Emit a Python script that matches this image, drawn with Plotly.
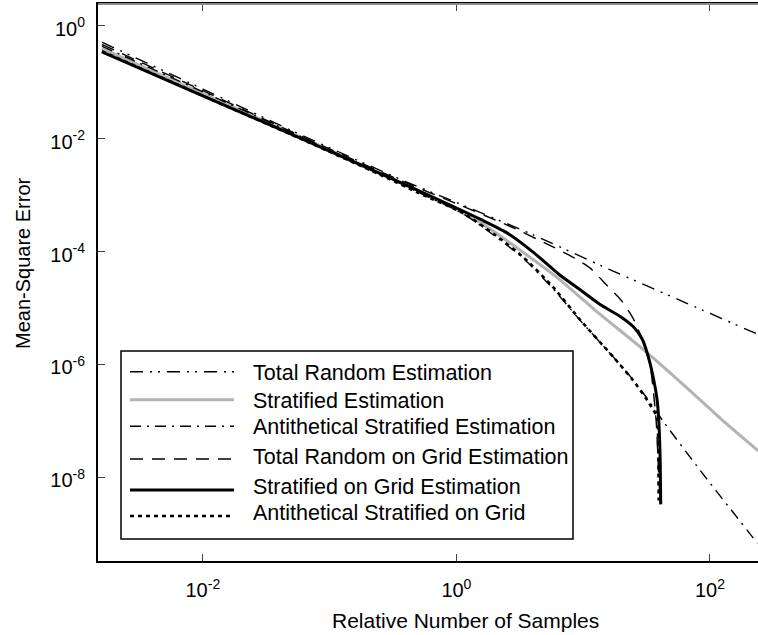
import plotly.graph_objects as go

# ---------------- data (log-log axes) ----------------
series_names = [
    "Total Random Estimation",
    "Stratified Estimation",
    "Antithetical Stratified Estimation",
    "Total Random on Grid Estimation",
    "Stratified on Grid Estimation",
    "Antithetical Stratified on Grid",
]

tr_x = [1.6e-3, 1.0e-2, 6.31e-2, 0.398, 1.0, 3.98, 15.85, 63.1, 240]
tr_y = [0.513, 7.59e-2, 1.096e-2, 1.74e-3, 7.41e-4, 2.0e-4, 4.90e-5, 1.26e-5, 3.39e-6]

st_x = [1.6e-3, 1.0e-2, 6.31e-2, 0.251, 0.631, 1.585, 3.16, 6.31, 12.6, 29.6, 63.1, 120, 240]
st_y = [0.398, 6.31e-2, 1.0e-2, 2.455e-3, 9.33e-4, 3.16e-4, 1.07e-4, 3.39e-5, 8.91e-6,
        1.862e-6, 4.17e-7, 1.122e-7, 2.95e-8]

as_x = [1.6e-3, 1.0e-2, 6.31e-2, 0.251, 0.501, 1.13, 2.0, 3.37, 5.79, 9.46, 17.3, 24.7,
        31.9, 42.8, 83.9, 237]
as_y = [0.437, 6.76e-2, 1.023e-2, 2.40e-3, 1.122e-3, 4.68e-4, 1.905e-4, 7.59e-5, 2.19e-5,
        6.03e-6, 1.35e-6, 5.37e-7, 2.51e-7, 9.77e-8, 1.318e-8, 6.76e-10]

trg_x = [1.6e-3, 1.0e-2, 6.31e-2, 0.398, 1.0, 2.51, 5.83, 8.61, 11.3, 15.4, 19.9, 24.7,
         29.6, 33.7, 37.6, 39.6, 40.3]
trg_y = [0.468, 7.08e-2, 1.047e-2, 1.66e-3, 7.08e-4, 2.95e-4, 1.20e-4, 7.59e-5, 5.13e-5,
         2.51e-5, 1.38e-5, 6.61e-6, 2.57e-6, 9.77e-7, 1.02e-7, 8.91e-9, 4.47e-9]

sg_x = [1.6e-3, 1.0e-2, 6.31e-2, 0.251, 0.631, 1.585, 2.51, 3.98, 6.58, 9.46, 13.6, 19.6,
        24.8, 29.2, 32.5, 35.6, 38.3, 39.5, 40.5, 40.9]
sg_y = [0.347, 5.75e-2, 9.55e-3, 2.40e-3, 9.55e-4, 3.63e-4, 2.14e-4, 1.0e-4, 3.8e-5,
        2.1e-5, 1.15e-5, 7.08e-6, 4.68e-6, 2.82e-6, 1.41e-6, 6.03e-7, 2.34e-7, 1.0e-7,
        2.0e-8, 3.31e-9]

asg_x = [1.6e-3, 1.0e-2, 6.31e-2, 0.251, 0.501, 1.13, 2.0, 3.37, 5.79, 9.46, 17.3, 24.7,
         31.9, 38.3, 39.0, 39.4]
asg_y = [0.355, 5.75e-2, 9.33e-3, 2.29e-3, 1.096e-3, 4.79e-4, 2.0e-4, 7.94e-5, 2.34e-5,
         6.17e-6, 1.35e-6, 5.25e-7, 2.34e-7, 1.148e-7, 4.57e-8, 3.89e-9]

x_tick_vals = [1e-2, 1e0, 1e2]
x_tick_text = ["10<sup>-2</sup>", "10<sup>0</sup>", "10<sup>2</sup>"]
y_tick_vals = [1e0, 1e-2, 1e-4, 1e-6, 1e-8]
y_tick_text = ["10<sup>0</sup>", "10<sup>-2</sup>", "10<sup>-4</sup>", "10<sup>-6</sup>", "10<sup>-8</sup>"]

x_title = "Relative Number of Samples"
y_title = "Mean-Square Error"

# ---------------- styles ----------------
styles = [
    dict(color="black", width=1.4, dash="13px,7px,2px,6px,2px,7px"),
    dict(color="#b3b3b3", width=3, dash="solid"),
    dict(color="black", width=1.4, dash="11px,6px,2px,6px"),
    dict(color="black", width=1.4, dash="13px,9px"),
    dict(color="black", width=3, dash="solid"),
    dict(color="black", width=2.6, dash="4px,4px"),
]
data = [(tr_x, tr_y), (st_x, st_y), (as_x, as_y), (trg_x, trg_y), (sg_x, sg_y), (asg_x, asg_y)]

W, H = 758, 635
L, R, T, B = 98, 0, 4, 74
X_RANGE = [-2.827, 2.379]
Y_RANGE = [-9.484, 0.387]

fig = go.Figure()
for name, (xs, ys), st in zip(series_names, data, styles):
    fig.add_trace(go.Scatter(x=xs, y=ys, mode="lines", name=name, showlegend=False,
                             line=dict(color=st["color"], width=st["width"], dash=st["dash"],
                                       shape="spline", smoothing=0.6)))

FONT = "Liberation Sans, Arial, Helvetica, sans-serif"

fig.update_layout(
    width=W, height=H,
    margin=dict(l=L, r=R, t=T, b=B),
    plot_bgcolor="white", paper_bgcolor="white",
    showlegend=False,
    font=dict(family=FONT, color="black", size=20),
    xaxis=dict(type="log", range=X_RANGE, tickvals=x_tick_vals, ticktext=x_tick_text,
               ticks="inside", ticklen=7, tickwidth=1, tickcolor="#444",
               showline=True, linecolor="black", linewidth=2, mirror="ticks",
               showgrid=False, zeroline=False, tickfont=dict(size=20),
               ticklabelstandoff=10),
    yaxis=dict(type="log", range=Y_RANGE, tickvals=y_tick_vals, ticktext=y_tick_text,
               ticks="inside", ticklen=7, tickwidth=1, tickcolor="#444",
               showline=True, linecolor="black", linewidth=2, mirror=False,
               showgrid=False, zeroline=False, tickfont=dict(size=20),
               ticklabelstandoff=7, ticklabelshift=3),
    # right-hand tick marks only (no visible right frame line in the original)
    yaxis2=dict(type="log", range=Y_RANGE, overlaying="y", side="right", tickvals=y_tick_vals,
                showticklabels=False, ticks="inside", ticklen=5, tickwidth=1, tickcolor="#444",
                showline=False, showgrid=False, zeroline=False),
)

pw, ph = W - L - R, H - T - B


def px(xp):
    return (xp - L) / pw


def py(yp):
    return (H - B - yp) / ph


# lighter top frame line, as in the original
fig.add_shape(type="line", xref="paper", yref="paper", x0=0, x1=1, y0=1, y1=1,
              line=dict(color="#8c8c8c", width=2), layer="above")

# axis titles (placed where the original has them)
fig.add_annotation(xref="paper", yref="paper", x=px(465), y=py(620), text=x_title, showarrow=False,
                   xanchor="center", yanchor="middle", font=dict(size=21, family=FONT, color="black"))
fig.add_annotation(xref="paper", yref="paper", x=px(22.5), y=py(263.5), text=y_title, showarrow=False,
                   textangle=-90, xanchor="center", yanchor="middle",
                   font=dict(size=20, family=FONT, color="black"))

# ---------------- manual legend (long line samples like the original) ----------------
fig.add_shape(type="rect", xref="paper", yref="paper", x0=px(121), x1=px(573), y0=py(539), y1=py(351),
              line=dict(color="black", width=1.5), fillcolor="white", layer="above")
row_line_y = [371.7, 399.7, 426.3, 459, 490, 516]
row_text_y = [373, 401, 427, 457, 487, 513]
for name, st, ly, ty in zip(series_names, styles, row_line_y, row_text_y):
    fig.add_shape(type="line", xref="paper", yref="paper", x0=px(130), x1=px(234), y0=py(ly), y1=py(ly),
                  line=dict(color=st["color"], width=st["width"], dash=st["dash"]), layer="above")
    fig.add_annotation(xref="paper", yref="paper", x=px(251), y=py(ty), text=name, showarrow=False,
                       xanchor="left", yanchor="middle", font=dict(size=21.5, family=FONT, color="black"))

fig.write_html("out.html", config={"displayModeBar": False},
               post_script="document.body.style.margin='0px';")
